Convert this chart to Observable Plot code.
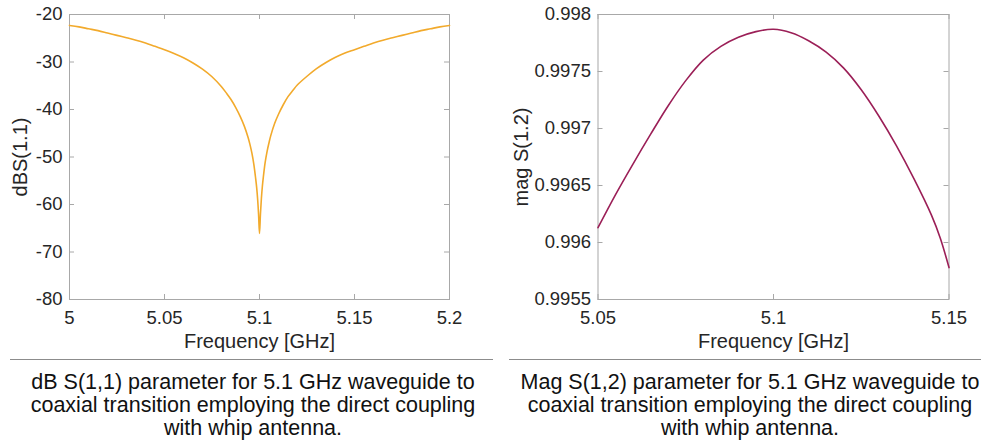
<!DOCTYPE html>
<html>
<head>
<meta charset="utf-8">
<script src="https://cdn.jsdelivr.net/npm/d3@7"></script>
<script src="https://cdn.jsdelivr.net/npm/@observablehq/plot@0.6"></script>
<style>
  html, body { margin: 0; padding: 0; background: #fff; }
  #wrap { position: relative; width: 981px; height: 441px; overflow: hidden; font-family: "Liberation Sans", Arial, Helvetica, sans-serif; }
  .panel { position: absolute; top: 0; }
  .sep { position: absolute; top: 358.5px; height: 0; border-top: 1px solid #8c8c8c; }
  .cap { position: absolute; top: 371px; text-align: center; font-size: 21.5px; line-height: 22.8px; color: #111; white-space: pre; }
</style>
</head>
<body>
<div id="wrap">
  <div id="left" class="panel" style="left:0px"></div>
  <div id="right" class="panel" style="left:490px"></div>
  <div class="sep" style="left:10px; width:483px"></div>
  <div class="sep" style="left:509px; width:472px"></div>
  <div id="capL" class="cap" style="left:3px; width:500px"></div>
  <div id="capR" class="cap" style="left:500px; width:500px"></div>
</div>
<script>
// ---- data: dB S(1,1) ----
const leftFreq = [5.000, 5.005, 5.010, 5.015, 5.020, 5.025, 5.030, 5.035, 5.040, 5.045, 5.050, 5.055, 5.060, 5.065, 5.070, 5.075, 5.080, 5.0825, 5.085, 5.0875, 5.090, 5.092, 5.094, 5.095, 5.096, 5.097, 5.098, 5.0985, 5.099, 5.0995, 5.100, 5.1005, 5.101, 5.1015, 5.102, 5.103, 5.104, 5.105, 5.106, 5.108, 5.110, 5.1125, 5.115, 5.1175, 5.120, 5.125, 5.130, 5.135, 5.140, 5.145, 5.150, 5.155, 5.160, 5.165, 5.170, 5.175, 5.180, 5.185, 5.190, 5.195, 5.200];
const leftDb = [-22.3, -22.6, -23.0, -23.4, -23.9, -24.4, -24.9, -25.4, -26.0, -26.7, -27.4, -28.2, -29.1, -30.2, -31.5, -33.1, -35.2, -36.5, -37.9, -39.6, -41.6, -43.5, -45.9, -47.4, -49.2, -51.5, -54.6, -56.4, -58.8, -62.0, -66.1, -62.0, -58.7, -56.2, -54.3, -51.1, -48.8, -47.0, -45.4, -42.9, -41.0, -39.0, -37.3, -36.0, -34.8, -33.0, -31.4, -30.1, -29.0, -28.1, -27.4, -26.7, -26.0, -25.4, -24.9, -24.4, -23.9, -23.4, -23.0, -22.6, -22.3];
const leftXTicks = [5, 5.05, 5.1, 5.15, 5.2];
const leftYTicks = [-80, -70, -60, -50, -40, -30, -20];

// ---- data: mag S(1,2) ----
const rightFreq = [5.050, 5.055, 5.060, 5.065, 5.070, 5.075, 5.080, 5.085, 5.090, 5.095, 5.100, 5.105, 5.110, 5.115, 5.120, 5.125, 5.130, 5.135, 5.140, 5.145, 5.1475, 5.150];
const rightMag = [0.99613, 0.99642, 0.99669, 0.99695, 0.99720, 0.99742, 0.99760, 0.99772, 0.99780, 0.99785, 0.99787, 0.99784, 0.99777, 0.99767, 0.99753, 0.99734, 0.99711, 0.99685, 0.99656, 0.99624, 0.99604, 0.99578];
const rightXTicks = [5.05, 5.1, 5.15];
const rightYTicks = [0.9955, 0.996, 0.9965, 0.997, 0.9975, 0.998];

const xLabel = "Frequency [GHz]";
const leftYLabel = "dBS(1.1)";
const rightYLabel = "mag S(1.2)";
const captionLeft = "dB S(1,1) parameter for 5.1 GHz waveguide to\ncoaxial transition employing the direct coupling\nwith whip antenna.";
const captionRight = "Mag S(1,2) parameter for 5.1 GHz waveguide to\ncoaxial transition employing the direct coupling\nwith whip antenna.";

const FONT = "'Liberation Sans', Arial, Helvetica, sans-serif";
const TXT = "#262626";
const AX = "#a8a8a8";

function panel({width, height, mL, mR, mT, mB, xDomain, yDomain, xTicks, yTicks, data, stroke, curve, yLabel, yLabelOffset}) {
  const innerW = width - mL - mR;
  const innerH = height - mT - mB;
  const tl = 5;
  return Plot.plot({
    width, height,
    marginLeft: mL, marginRight: mR, marginTop: mT, marginBottom: mB,
    style: {fontFamily: FONT, fontSize: "18.5px", color: TXT, background: "#fff", overflow: "visible"},
    x: {domain: xDomain},
    y: {domain: yDomain},
    marks: [
      Plot.frame({stroke: AX, strokeWidth: 1}),
      Plot.tickX(xTicks, {x: d => d, insetTop: innerH - tl, stroke: AX}),
      Plot.tickX(xTicks, {x: d => d, insetBottom: innerH - tl, stroke: AX}),
      Plot.tickY(yTicks, {y: d => d, insetRight: innerW - tl, stroke: AX}),
      Plot.tickY(yTicks, {y: d => d, insetLeft: innerW - tl, stroke: AX}),
      Plot.line(data, {x: "f", y: "v", stroke, strokeWidth: 1.6, curve}),
      Plot.axisX({ticks: xTicks, tickFormat: d => String(d), tickSize: 0, tickPadding: 11, label: null, fontSize: 18.5, fill: TXT}),
      Plot.axisY({ticks: yTicks, tickFormat: d => String(d), tickSize: 0, tickPadding: 7, label: null, fontSize: 18.5, fill: TXT}),
      Plot.axisX({ticks: [], tickSize: 0, label: xLabel, labelAnchor: "center", labelArrow: "none", labelOffset: 48, fontSize: 20, fill: TXT}),
      Plot.axisY({ticks: [], tickSize: 0, label: yLabel, labelAnchor: "center", labelArrow: "none", labelOffset: yLabelOffset, fontSize: 20, fill: TXT})
    ]
  });
}

const leftData = leftFreq.map((f, i) => ({f, v: leftDb[i]}));
const rightData = rightFreq.map((f, i) => ({f, v: rightMag[i]}));

document.getElementById("left").append(panel({
  width: 490, height: 360, mL: 69, mR: 41, mT: 14, mB: 61,
  xDomain: [5, 5.2], yDomain: [-80, -20],
  xTicks: leftXTicks, yTicks: leftYTicks,
  data: leftData, stroke: "#f2aa2c", curve: "catmull-rom",
  yLabel: leftYLabel, yLabelOffset: 56.5
}));

document.getElementById("right").append(panel({
  width: 491, height: 360, mL: 107.5, mR: 32.5, mT: 14, mB: 61,
  xDomain: [5.05, 5.15], yDomain: [0.9955, 0.998],
  xTicks: rightXTicks, yTicks: rightYTicks,
  data: rightData, stroke: "#9b1f57", curve: "catmull-rom",
  yLabel: rightYLabel, yLabelOffset: 84
}));

document.getElementById("capL").textContent = captionLeft;
document.getElementById("capR").textContent = captionRight;
</script>
</body>
</html>
